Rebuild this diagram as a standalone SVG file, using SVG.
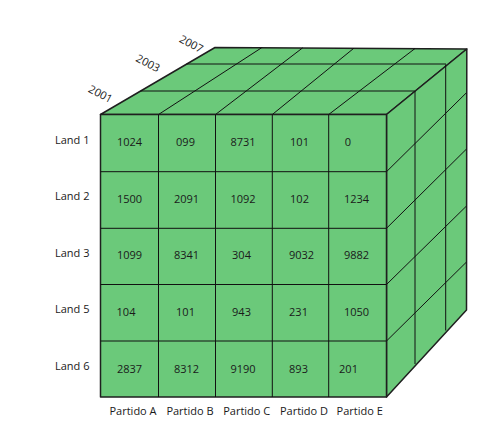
<svg xmlns="http://www.w3.org/2000/svg" width="496" height="447" viewBox="0 0 496 447">
<style>
.face{fill:#6BC97A;stroke:#1f1f1f;stroke-width:1.5;stroke-linejoin:round}
.grid{stroke:#111;stroke-width:1;fill:none}
.t{font-family:"Open Sans","Liberation Sans",sans-serif;font-size:11px;fill:#1a1a1a}
.c{text-anchor:middle}
</style>
<rect width="496" height="447" fill="#ffffff"/>
<g id="top-face">
<polygon class="face" points="100.5,114.5 386.5,114.5 466.8,49 215,47.5"/>
<g class="grid">
<line x1="140.5" y1="91" x2="414.8" y2="91"/>
<line x1="186.5" y1="64" x2="446" y2="64"/>
<line x1="158.5" y1="114.5" x2="261.7" y2="47.7"/>
<line x1="215.5" y1="114.5" x2="302.7" y2="47.8"/>
<line x1="272.3" y1="114.5" x2="354" y2="48.1"/>
<line x1="328.7" y1="114.5" x2="415" y2="48.5"/>
</g>
</g>
<g id="right-face">
<polygon class="face" points="386.5,114.5 466.8,49 466.5,310 386.5,397"/>
<g class="grid">
<line x1="415" y1="91" x2="415" y2="364"/>
<line x1="445.7" y1="64.5" x2="445.7" y2="330.5"/>
<line x1="386.5" y1="171.7" x2="466.5" y2="92.7"/>
<line x1="386.5" y1="228.3" x2="466.5" y2="149"/>
<line x1="386.5" y1="284.5" x2="466.5" y2="206"/>
<line x1="386.5" y1="341" x2="466.5" y2="262"/>
</g>
</g>
<g id="front-face">
<rect class="face" x="100.5" y="114.5" width="286" height="282.5"/>
<g class="grid">
<line x1="100.5" y1="171.7" x2="386.5" y2="171.7"/>
<line x1="100.5" y1="228.3" x2="386.5" y2="228.3"/>
<line x1="100.5" y1="284.5" x2="386.5" y2="284.5"/>
<line x1="100.5" y1="341" x2="386.5" y2="341"/>
<line x1="158.5" y1="114.5" x2="158.5" y2="397"/>
<line x1="215.5" y1="114.5" x2="215.5" y2="397"/>
<line x1="272.3" y1="114.5" x2="272.3" y2="397"/>
<line x1="328.7" y1="114.5" x2="328.7" y2="397"/>
</g>
</g>
<g id="cell-values" class="t c">
<text x="129.5" y="146">1024</text>
<text x="185.5" y="146">099</text>
<text x="243" y="146">8731</text>
<text x="299.5" y="146">101</text>
<text x="348" y="146">0</text>
<text x="129.5" y="202.5">1500</text>
<text x="186.5" y="202.5">2091</text>
<text x="243" y="202.5">1092</text>
<text x="299.5" y="202.5">102</text>
<text x="356.5" y="202.5">1234</text>
<text x="129.5" y="259">1099</text>
<text x="186.5" y="259">8341</text>
<text x="241.5" y="259">304</text>
<text x="301.5" y="259">9032</text>
<text x="356.5" y="259">9882</text>
<text x="126" y="316">104</text>
<text x="185.5" y="316">101</text>
<text x="241.5" y="316">943</text>
<text x="298.5" y="316">231</text>
<text x="356.5" y="316">1050</text>
<text x="129.5" y="373">2837</text>
<text x="186.5" y="373">8312</text>
<text x="243" y="373">9190</text>
<text x="298.5" y="373">893</text>
<text x="348.5" y="373">201</text>
</g>
<g id="row-labels" class="t">
<text x="55" y="143.5">Land 1</text>
<text x="55" y="200">Land 2</text>
<text x="55" y="256.5">Land 3</text>
<text x="55" y="313">Land 5</text>
<text x="55" y="369.5">Land 6</text>
</g>
<g id="column-labels" class="t c">
<text x="133" y="414.5">Partido A</text>
<text x="190" y="414.5">Partido B</text>
<text x="246.7" y="414.5">Partido C</text>
<text x="304" y="414.5">Partido D</text>
<text x="359.7" y="414.5">Partido E</text>
</g>
<g id="year-labels" class="t c">
<text transform="translate(100.5,94) rotate(28)" y="3.8">2001</text>
<text transform="translate(148,63.3) rotate(28)" y="3.8">2003</text>
<text transform="translate(191.3,44) rotate(28)" y="3.8">2007</text>
</g>
</svg>
